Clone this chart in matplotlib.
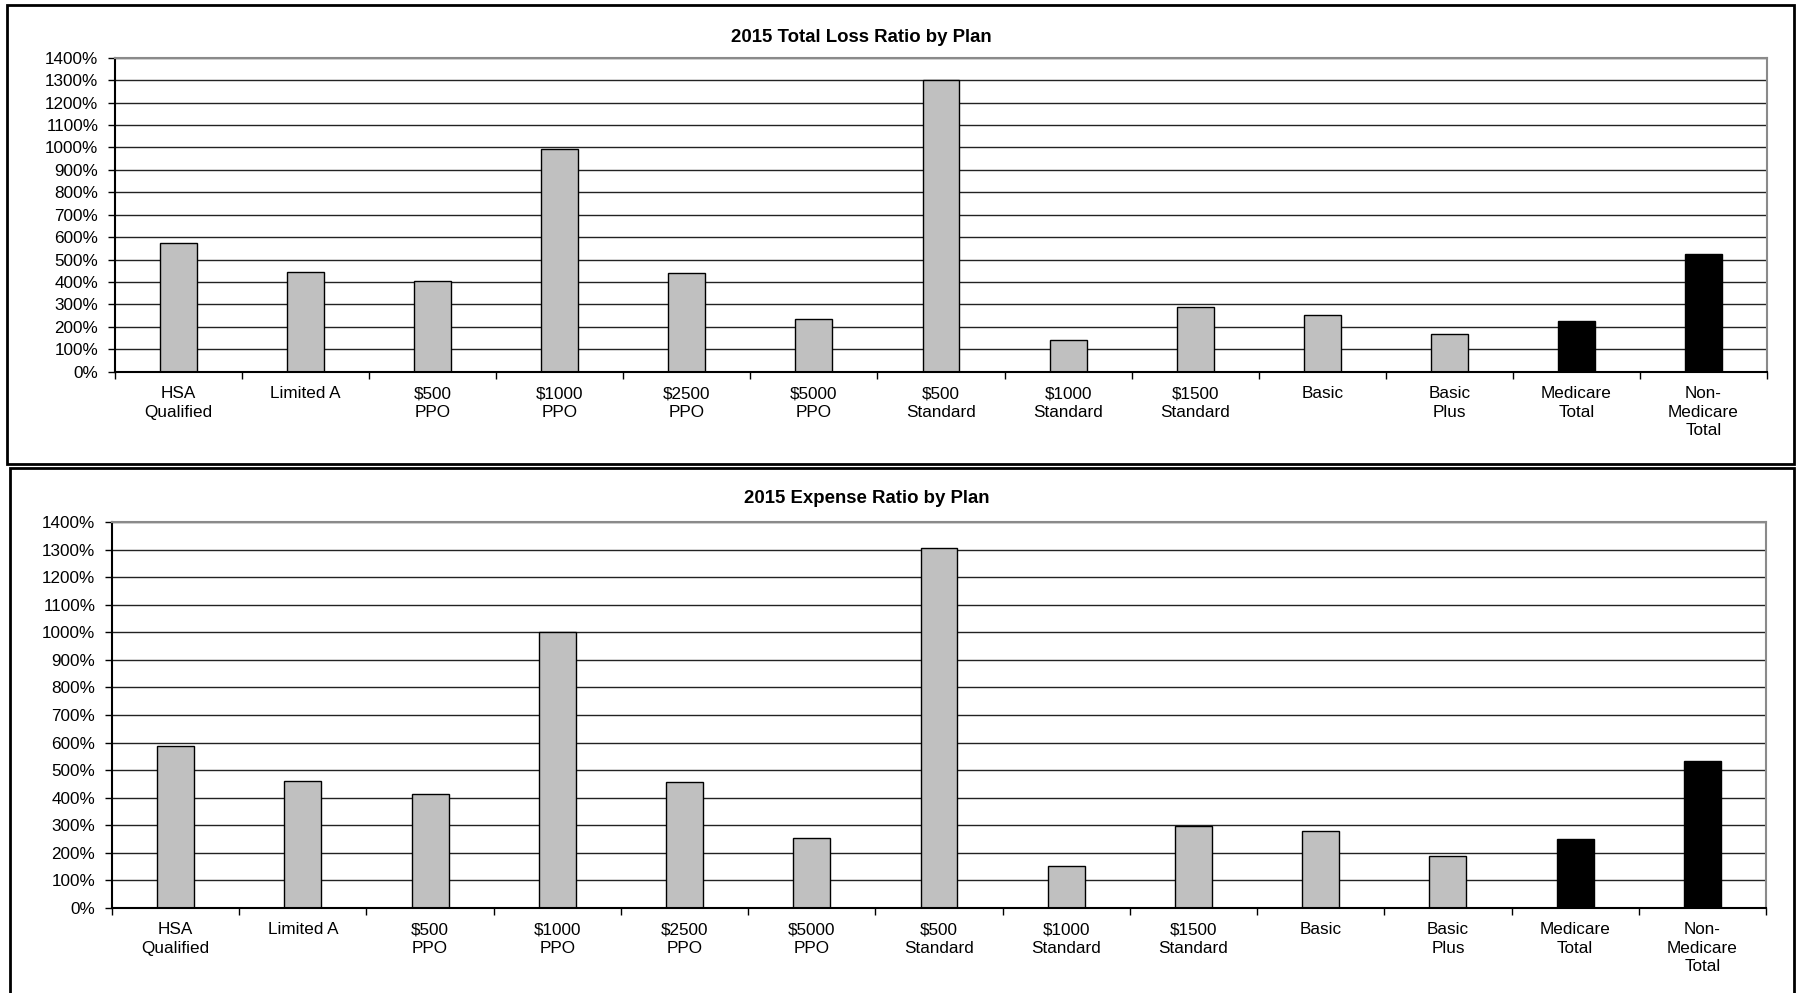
import matplotlib
matplotlib.use("Agg")
import matplotlib.pyplot as plt
import matplotlib.patches as mpatches
import numpy as np

plt.rcParams['font.family'] = ['Liberation Sans', 'DejaVu Sans']

# data
plans = ['HSA\nQualified', 'Limited A', '$500\nPPO', '$1000\nPPO', '$2500\nPPO',
         '$5000\nPPO', '$500\nStandard', '$1000\nStandard', '$1500\nStandard',
         'Basic', 'Basic\nPlus', 'Medicare\nTotal', 'Non-\nMedicare\nTotal']
loss_ratio = [575, 446, 406, 991, 441, 235, 1302, 143, 288, 251, 169, 225, 526]
expense_ratio = [589, 461, 414, 1001, 456, 252, 1308, 150, 295, 280, 187, 251, 534]
totals = ['Medicare\nTotal', 'Non-\nMedicare\nTotal']
yticks = list(range(0, 1401, 100))

W, H = 1796, 993
fig = plt.figure(figsize=(W / 100, H / 100), dpi=100)


def px_axes(x0, x1, y_top, y_bot):
    return fig.add_axes([x0 / W, 1 - y_bot / H, (x1 - x0) / W, (y_bot - y_top) / H])


def frame(x0, x1, y0, y1):
    fig.patches.append(mpatches.Rectangle((x0 / W, 1 - y1 / H), (x1 - x0) / W, (y1 - y0) / H,
                                          transform=fig.transFigure, fill=False,
                                          edgecolor='black', linewidth=2))


def draw(ax, values, title, title_x, title_y):
    x = np.arange(len(plans))
    colors = ['black' if p in totals else '#c0c0c0' for p in plans]
    ax.bar(x, values, width=0.29, color=colors, edgecolor='black', linewidth=1, zorder=2)
    ax.set_xlim(-0.5, len(plans) - 0.5)
    ax.set_ylim(0, 1400)
    ax.set_yticks(yticks)
    ax.set_yticklabels([f'{v}%' for v in yticks])
    ax.set_xticks(x)
    ax.set_xticklabels(plans, linespacing=1.29)
    ax.set_xticks(np.arange(len(plans) + 1) - 0.5, minor=True)
    ax.tick_params(axis='x', which='major', length=0, pad=10.5, labelsize=12.3)
    ax.tick_params(axis='x', which='minor', length=5, width=1, color='black')
    ax.tick_params(axis='y', length=5, width=1, pad=7, labelsize=12.3)
    ax.set_axisbelow(True)
    ax.yaxis.grid(True, color='#222222', linewidth=1)
    for s in ['left', 'bottom']:
        ax.spines[s].set_color('black')
        ax.spines[s].set_linewidth(1.5)
    for s in ['top', 'right']:
        ax.spines[s].set_color('#8a8a8a')
        ax.spines[s].set_linewidth(1.5)
    fig.text(title_x / W, 1 - title_y / H, title, ha='center', va='center',
             fontsize=13.4, fontweight='bold')


frame(7, 1794, 5, 464)
frame(10, 1794, 468, 1000)

ax1 = px_axes(115, 1767, 57.7, 371.7)
draw(ax1, loss_ratio, '2015 Total Loss Ratio by Plan', 861, 37)

ax2 = px_axes(112, 1766, 522.3, 907.7)
draw(ax2, expense_ratio, '2015 Expense Ratio by Plan', 867, 498)

fig.savefig('out.png', dpi=100)
